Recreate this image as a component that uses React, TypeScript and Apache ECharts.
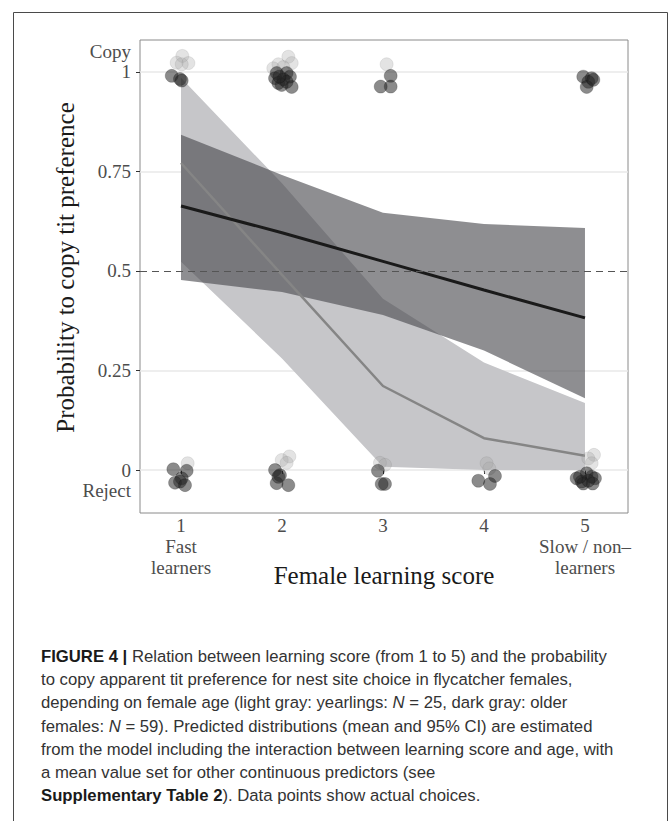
import React, { useEffect, useRef } from "react";
import * as echarts from "echarts";

// ---------- data ----------
const scores = [1, 2, 3, 4, 5];
const xTickSub: string[][] = [["Fast", "learners"], [], [], [], ["Slow / non–", "learners"]];
const yTicks = [0, 0.25, 0.5, 0.75, 1];
const yTickLabels = ["0", "0.25", "0.5", "0.75", "1"];
const yTopName = "Copy";
const yBottomName = "Reject";
const refLine = 0.5;

// yearlings (light gray)
const yearlingMean = [0.771, 0.49, 0.211, 0.08, 0.036];
const yearlingUpper = [0.985, 0.72, 0.43, 0.27, 0.168];
const yearlingLower = [0.523, 0.28, 0.008, 0.0, 0.0];
// older females (dark gray)
const olderMean = [0.663, 0.596, 0.524, 0.452, 0.382];
const olderUpper = [0.842, 0.741, 0.646, 0.618, 0.608];
const olderLower = [0.477, 0.447, 0.389, 0.3, 0.18];

// observed choices (jittered)
const yearlingPoints = [
  [1.013, 1.04], [0.957, 1.023], [1.073, 1.022], [1.007, 1.019],
  [2.063, 1.038], [1.964, 1.019], [2.096, 1.022], [1.914, 1.009], [2.013, 1.012],
  [3.036, 1.019],
  [1.066, 0.017],
  [2.073, 0.034], [1.997, 0.025], [2.046, 0.018],
  [2.97, 0.018], [3.02, 0.013],
  [4.026, 0.017], [4.053, 0.004],
  [5.089, 0.038], [5.033, 0.029], [5.066, 0.017],
];
const olderPoints = [
  [0.908, 0.99], [0.99, 0.982], [1.007, 0.978],
  [1.947, 0.997], [2.046, 0.997], [2.079, 0.988], [1.931, 0.984], [2.013, 0.981],
  [1.964, 0.972], [2.096, 0.962], [1.997, 0.967], [2.046, 0.975], [1.974, 0.988],
  [3.076, 0.99], [3.076, 0.963], [2.977, 0.963],
  [4.983, 0.988], [5.066, 0.984], [5.033, 0.975], [5.017, 0.962], [5.083, 0.98],
  [0.924, 0.002], [1.056, -0.002], [1.007, -0.021], [0.941, -0.032], [0.99, -0.029], [1.04, -0.038],
  [1.931, 0.0], [1.98, -0.013], [1.947, -0.033], [2.063, -0.038], [1.964, -0.017],
  [2.95, -0.002], [2.987, -0.035], [3.02, -0.035],
  [3.944, -0.027], [4.059, -0.035], [4.109, -0.015],
  [4.917, -0.021], [4.967, -0.029], [5.017, -0.008], [5.066, -0.017], [5.099, -0.021],
  [4.983, -0.034], [5.076, -0.034], [5.033, -0.027], [4.95, -0.017],
];

const xTitle = "Female learning score";
const yTitle = "Probability to copy tit preference";

const captionLines = [
  "{b|FIGURE 4 |} Relation between learning score (from 1 to 5) and the probability",
  "to copy apparent tit preference for nest site choice in flycatcher females,",
  "depending on female age (light gray: yearlings: {i|N} = 25, dark gray: older",
  "females: {i|N} = 59). Predicted distributions (mean and 95% CI) are estimated",
  "from the model including the interaction between learning score and age, with",
  "a mean value set for other continuous predictors (see",
  "{b|Supplementary Table 2}). Data points show actual choices.",
];

// ---------- styles ----------
const SERIF = "'Liberation Serif', 'DejaVu Serif', serif";
const SANS = "'Liberation Sans', Arial, sans-serif";
const TICK_COLOR = "#4d4d4d";

function ribbon(name: string, lower: number[], upper: number[], fill: string, z: number) {
  return {
    type: "custom",
    name,
    z,
    silent: true,
    data: scores.map((x, i) => [x, lower[i], upper[i]]),
    encode: { x: 0, y: [1, 2] },
    renderItem: (params: any, api: any) => {
      if (params.dataIndex !== 0) return null;
      const pts: number[][] = [];
      for (let i = 0; i < scores.length; i++) pts.push(api.coord([scores[i], upper[i]]));
      for (let i = scores.length - 1; i >= 0; i--) pts.push(api.coord([scores[i], lower[i]]));
      return { type: "polygon", shape: { points: pts }, style: { fill } };
    },
  };
}

export default function App() {
  const ref = useRef<HTMLDivElement>(null);
  useEffect(() => {
    if (!ref.current) return;
    const chart = echarts.init(ref.current, null, { renderer: "svg" });

    const tickRich = {
      t: { fontFamily: SERIF, fontSize: 19, color: TICK_COLOR, lineHeight: 20, align: "right" },
    };
    const xRich = {
      t: { fontFamily: SERIF, fontSize: 19, color: TICK_COLOR, lineHeight: 21, align: "center" },
    };

    const option: any = {
      animation: false,
      backgroundColor: "#ffffff",
      grid: {
        left: 140,
        top: 40,
        width: 488,
        height: 473,
        show: true,
        borderColor: "#8a8a8a",
        borderWidth: 1,
        backgroundColor: "transparent",
      },
      xAxis: {
        type: "value",
        min: 0.594,
        max: 5.426,
        axisLine: { show: false },
        splitLine: { show: false },
        axisTick: { show: true, customValues: scores, length: 4, lineStyle: { color: "#333", width: 1 } },
        axisLabel: {
          customValues: scores,
          margin: 2,
          formatter: (v: number) => {
            const i = scores.indexOf(v);
            const lines = [String(v), ...(i >= 0 ? xTickSub[i] : [])];
            return lines.map((l) => `{t|${l}}`).join("\n");
          },
          rich: xRich,
        },
        name: xTitle,
        nameLocation: "middle",
        nameGap: 50,
        nameMoveOverlap: false,
        nameTextStyle: { fontFamily: SERIF, fontSize: 25, color: "#1a1a1a" },
      },
      yAxis: {
        type: "value",
        min: -0.108,
        max: 1.08,
        axisLine: { show: false },
        splitLine: { show: false },
        axisTick: { show: true, customValues: yTicks, length: 4, lineStyle: { color: "#333", width: 1 } },
        axisLabel: {
          customValues: yTicks,
          margin: 9,
          formatter: (v: number) => {
            const i = yTicks.indexOf(v);
            const lbl = i >= 0 ? yTickLabels[i] : String(v);
            if (v === yTicks[yTicks.length - 1]) return `{t|${yTopName}}\n{t|${lbl}}\n{t| }`;
            if (v === yTicks[0]) return `{t| }\n{t|${lbl}}\n{t|${yBottomName}}`;
            return `{t|${lbl}}`;
          },
          rich: tickRich,
        },
      },
      series: [
        {
          type: "line",
          name: "grid",
          data: [],
          z: 1,
          silent: true,
          markLine: {
            z: 1,
            silent: true,
            symbol: "none",
            label: { show: false },
            lineStyle: { color: "#e9e9e9", width: 1.5, type: "solid" },
            data: yTicks.filter((t) => t !== refLine).map((t) => ({ yAxis: t })),
          },
        },
        ribbon("yearlings CI", yearlingLower, yearlingUpper, "rgb(198,198,201)", 3),
        ribbon("older CI", olderLower, olderUpper, "rgba(73,73,78,0.62)", 4),
        {
          type: "line",
          name: "yearlings mean",
          z: 5,
          data: scores.map((x, i) => [x, yearlingMean[i]]),
          showSymbol: false,
          symbol: "none",
          lineStyle: { color: "#858585", width: 2.5 },
          silent: true,
        },
        {
          type: "line",
          name: "older mean",
          z: 6,
          data: scores.map((x, i) => [x, olderMean[i]]),
          showSymbol: false,
          symbol: "none",
          lineStyle: { color: "#1a1a1a", width: 3 },
          silent: true,
          markLine: {
            z: 7,
            silent: true,
            symbol: "none",
            label: { show: false },
            lineStyle: { color: "#555555", width: 1, type: [7, 5] },
            data: [{ yAxis: refLine }],
          },
        },
        {
          type: "scatter",
          name: "yearlings",
          z: 8,
          data: yearlingPoints,
          symbolSize: 13,
          itemStyle: { color: "rgba(165,165,165,0.38)", borderColor: "rgba(120,120,120,0.25)", borderWidth: 0.8 },
          silent: true,
        },
        {
          type: "scatter",
          name: "older",
          z: 9,
          data: olderPoints,
          symbolSize: 13,
          itemStyle: { color: "rgba(35,35,35,0.66)", borderColor: "rgba(0,0,0,0.3)", borderWidth: 0.8 },
          silent: true,
        },
      ],
      graphic: [
        {
          type: "rect",
          silent: true,
          z: 0,
          shape: { x: 13.5, y: 12.5, width: 654, height: 840 },
          style: { fill: "none", stroke: "#4a4a4a", lineWidth: 1 },
        },
        {
          type: "text",
          silent: true,
          x: 65,
          y: 267.5,
          rotation: Math.PI / 2,
          style: {
            text: yTitle,
            fontFamily: SERIF,
            fontSize: 25,
            fill: "#1a1a1a",
            align: "center",
            verticalAlign: "middle",
          },
        },
        ...captionLines.map((line, i) => ({
          type: "text",
          silent: true,
          left: 41,
          top: 648 + i * 23.2,
          style: {
            text: line,
            fontFamily: SANS,
            fontSize: 16.7,
            fill: "#333333",
            rich: {
              b: { fontFamily: SANS, fontSize: 16.7, fontWeight: "bold", fill: "#1a1a1a", color: "#1a1a1a" },
              i: { fontFamily: SANS, fontSize: 16.7, fontStyle: "italic", fill: "#333333", color: "#333333" },
            },
          },
        })),
      ],
    };

    chart.setOption(option);
    return () => chart.dispose();
  }, []);

  return (
    <div
      ref={ref}
      style={{ position: "absolute", left: 0, top: 0, width: 669, height: 821, background: "#fff" }}
    />
  );
}
